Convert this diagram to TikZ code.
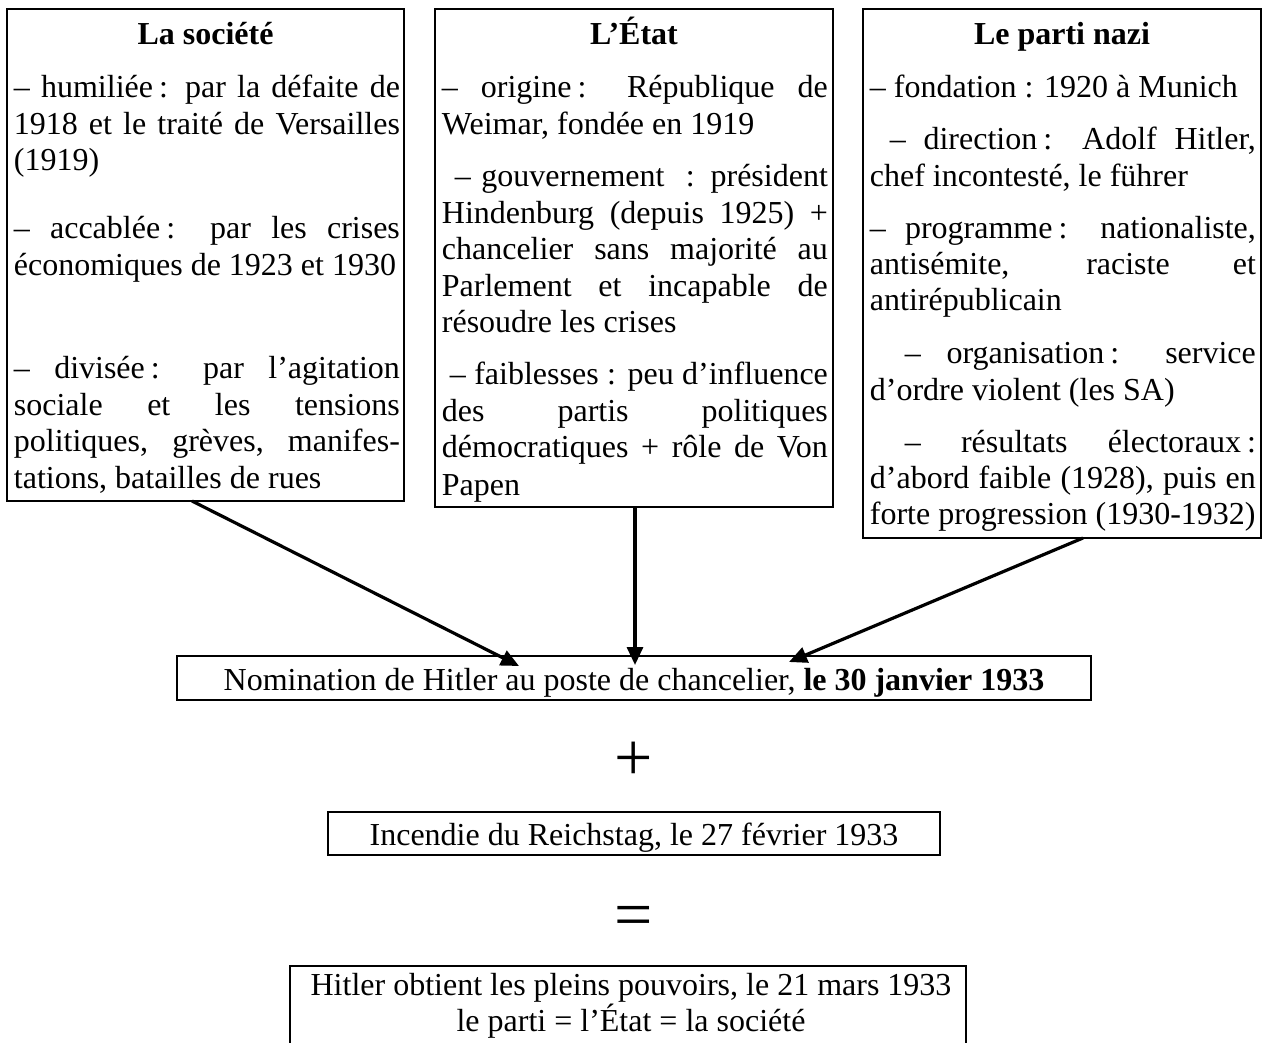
\documentclass[tikz,border=0pt]{standalone}
\usepackage{fontspec}
\setmainfont{Liberation Serif}
\usetikzlibrary{arrows.meta,calc}
\newlength\tw
\setlength\tw{193pt}
\newcommand\jline[1]{\makebox[\tw][s]{#1}}
\newcommand\csp{\kern3pt}
\newcommand\bodyfont{\fontsize{16pt}{18.25pt}\selectfont}
\begin{document}
\begin{tikzpicture}[x=0.5pt,y=-0.5pt,
  box/.style={draw, line width=0.6pt, inner sep=0pt, outer sep=0pt, anchor=north west},
  ln/.style={anchor=base west, inner sep=0pt, font=\bodyfont},
  ttl/.style={anchor=base, inner sep=0pt, font=\bodyfont\bfseries},
  ctr/.style={anchor=base, inner sep=0pt, font=\bodyfont},
  sym/.style={anchor=base, inner sep=0pt, font=\fontsize{34pt}{40pt}\selectfont},
  arr/.style={line width=1.6pt, -{Triangle[length=9pt,width=8pt]}}]
\useasboundingbox (0,0) rectangle (1265,1043);
\clip (0,0) rectangle (1265,1043);
\fill[white] (0,0) rectangle (1265,1043);

% --- La société
\node[box, minimum width=198.5pt, minimum height=246pt] (soc) at (7,9) {};
\node[ttl] (socT) at (205.5,45) {La société};
\node[ln] (s1) at (13.5,97.5) {\jline{– humiliée\csp: par la défaite de}};
\node[ln] (s2) at (13.5,134.5) {\jline{1918 et le traité de Versailles}};
\node[ln] (s3) at (13.5,170.5) {(1919)};
\node[ln] (s4) at (13.5,238.5) {\jline{– accablée\csp: par les crises}};
\node[ln] (s5) at (13.5,275.5) {économiques de 1923 et 1930};
\node[ln] (s6) at (13.5,378.5) {\jline{– divisée\csp: par l’agitation}};
\node[ln] (s7) at (13.5,415.5) {\jline{sociale et les tensions}};
\node[ln] (s8) at (13.5,451.5) {\jline{politiques, grèves, manifes-}};
\node[ln] (s9) at (13.5,488.5) {tations, batailles de rues};

% --- L'État
\node[box, minimum width=199pt, minimum height=249pt] (etat) at (435,9) {};
\node[ttl] (etatT) at (634,45) {L’État};
\node[ln] (e1l) at (441.5,97.5) {\jline{– origine\csp: République de}};
\node[ln] (e2l) at (441.5,134.5) {Weimar, fondée en 1919};
\node[ln] (e3l) at (441.5,186.5) {\jline{\hspace*{6.5pt}– gouvernement\ \ : président}};
\node[ln] (e4l) at (441.5,223.5) {\jline{Hindenburg (depuis 1925) +}};
\node[ln] (e5l) at (441.5,259.5) {\jline{chancelier sans majorité au}};
\node[ln] (e6l) at (441.5,296.5) {\jline{Parlement et incapable de}};
\node[ln] (e7l) at (441.5,332.5) {résoudre les crises};
\node[ln] (e8l) at (441.5,384.5) {\jline{\hspace*{4pt}– faiblesses : peu d’influence}};
\node[ln] (e9l) at (441.5,421.5) {\jline{des partis politiques}};
\node[ln] (e10l) at (441.5,457.5) {\jline{démocratiques + rôle de Von}};
\node[ln] (e11l) at (441.5,495.5) {Papen};

% --- Le parti nazi
\node[box, minimum width=199pt, minimum height=264.5pt] (parti) at (863,9) {};
\node[ttl] (partiT) at (1062,45) {Le parti nazi};
\node[ln] (p1) at (869.5,97.5) {– fondation : 1920 à Munich};
\node[ln] (p2) at (869.5,149.5) {\jline{\hspace*{10pt}– direction\csp: Adolf Hitler,}};
\node[ln] (p3) at (869.5,186.5) {chef incontesté, le führer};
\node[ln] (p4) at (869.5,238.5) {\jline{– programme\csp: nationaliste,}};
\node[ln] (p5) at (869.5,274.5) {\jline{antisémite, raciste et}};
\node[ln] (p6) at (869.5,310.5) {antirépublicain};
\node[ln] (p7) at (869.5,363.5) {\jline{\hspace*{17.5pt}– organisation\csp: service}};
\node[ln] (p8) at (869.5,400.5) {d’ordre violent (les SA)};
\node[ln] (p9) at (869.5,452.5) {\jline{\hspace*{17.5pt}– résultats électoraux\csp:}};
\node[ln] (p10) at (869.5,488.5) {\jline{d’abord faible (1928), puis en}};
\node[ln] (p11) at (869.5,524.5) {forte progression (1930-1932)};

% --- bottom chain
\node[box, minimum width=457pt, minimum height=22pt] (nom) at (177,656) {};
\node[ctr] (nomT) at (634,690) {Nomination de Hitler au poste de chancelier, \textbf{le 30 janvier 1933}};
\node[sym] (plus) at (634,780) {+};
\node[box, minimum width=306pt, minimum height=21.5pt] (inc) at (328,812) {};
\node[ctr] (incT) at (634,845) {Incendie du Reichstag, le 27 février 1933};
\node[sym] (eq) at (634,937) {=};
\node[box, minimum width=338pt, minimum height=60pt] (res) at (290,966) {};
\node[ctr] (res1) at (631,995) {Hitler obtient les pleins pouvoirs, le 21 mars 1933};
\node[ctr] (res2) at (631,1031) {le parti = l’État = la société};

% --- arrows
\coordinate (t1) at (519,666);
\coordinate (t2) at (635,665);
\coordinate (t3) at (789,662);
\draw[arr] ($(soc.south)+(-13.5,0)$) -- (t1);
\draw[arr] ($(etat.south)+(1,0)$) -- (t2);
\draw[arr] ($(parti.south)+(21,0)$) -- (t3);
\end{tikzpicture}
\end{document}
